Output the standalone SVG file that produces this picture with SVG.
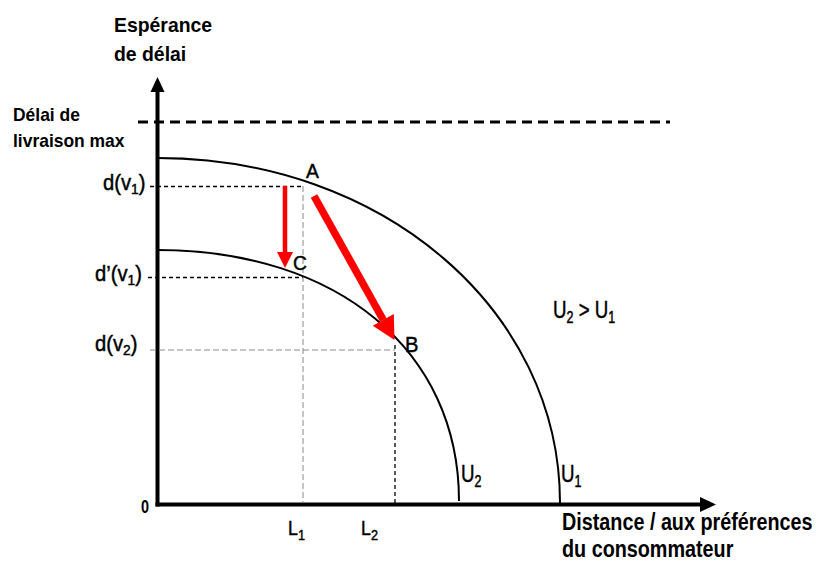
<svg xmlns="http://www.w3.org/2000/svg" width="816" height="566" viewBox="0 0 816 566">
<defs>
<style>
text{font-family:"Liberation Sans",Arial,sans-serif;font-weight:bold;fill:#000}
text.r{font-weight:normal;stroke:#000;stroke-width:0.45}
.ax{stroke:#000;stroke-width:4;fill:none}
.curve{stroke:#000;stroke-width:2;fill:none}
.dk{stroke:#000;stroke-width:1.3;stroke-dasharray:4 3;fill:none}
.gr{stroke:#8a8a8a;stroke-width:1;stroke-dasharray:6 3;fill:none}
.red{fill:#ff0000}
</style>
</defs>
<rect width="816" height="566" fill="#fff"/>
<g id="axes">
<line x1="157.5" y1="506.5" x2="157.5" y2="90" class="ax"/>
<polygon points="157.5,77 150.5,92 164.5,92"/>
<line x1="155.5" y1="504.5" x2="701" y2="504.5" class="ax"/>
<polygon points="716,504.5 700,497 700,512"/>
<line x1="138" y1="122" x2="670" y2="122" stroke="#000" stroke-width="3" stroke-dasharray="10 6"/>
</g>
<g id="guides">
<path class="dk" d="M150,186.5H303"/>
<path class="dk" d="M148,277.5H303"/>
<path class="gr" d="M150,350H395"/>
<path class="gr" d="M303,186V503" stroke="#555"/>
<path class="dk" d="M395,345V503" stroke-width="1"/>
</g>
<g id="curves">
<path id="U1" class="curve" d="M157.5,158 C383,158 560,310 560,503"/>
<path id="U2" class="curve" d="M157.5,250 C338,250 459,351 459,501"/>
</g>
<g id="arrows">
<line x1="285" y1="186" x2="285" y2="253" stroke="#ff0000" stroke-width="4.5"/>
<polygon class="red" points="277,252 293,252 285,268"/>
<line x1="314" y1="196" x2="383.3" y2="320" stroke="#ff0000" stroke-width="7.5"/>
<polygon class="red" points="394.5,340 393.8,314 372.8,325.8"/>
</g>
<g id="labels">
<text transform="translate(114,32) scale(0.97,1)" font-size="20">Espérance</text>
<text transform="translate(114,61) scale(0.97,1)" font-size="20">de délai</text>
<text transform="translate(13,121) scale(0.97,1)" font-size="18">Délai de</text>
<text transform="translate(13,147) scale(0.97,1)" font-size="18">livraison max</text>
<text class="r" transform="translate(103,190) scale(0.92,1)" font-size="22">d(v<tspan font-size="15" dy="4">1</tspan><tspan dy="-4">)</tspan></text>
<text class="r" transform="translate(95,281) scale(0.92,1)" font-size="22">d’(v<tspan font-size="15" dy="4">1</tspan><tspan dy="-4">)</tspan></text>
<text class="r" transform="translate(95,351) scale(0.92,1)" font-size="22">d(v<tspan font-size="15" dy="4">2</tspan><tspan dy="-4">)</tspan></text>
<text class="r" transform="translate(306,178) scale(0.92,1)" font-size="21">A</text>
<text class="r" transform="translate(293,270) scale(0.92,1)" font-size="21">C</text>
<text class="r" transform="translate(405,352) scale(0.92,1)" font-size="22">B</text>
<text class="r" transform="translate(553,318) scale(0.78,1)" font-size="24">U<tspan font-size="16" dy="5">2</tspan><tspan dy="-5"> &gt; U</tspan><tspan font-size="16" dy="5">1</tspan></text>
<text class="r" transform="translate(461,482) scale(0.78,1)" font-size="24">U<tspan font-size="16" dy="5">2</tspan></text>
<text class="r" transform="translate(561,482) scale(0.78,1)" font-size="24">U<tspan font-size="16" dy="5">1</tspan></text>
<text class="r" transform="translate(288,535) scale(0.85,1)" font-size="21">L<tspan font-size="15" dy="5">1</tspan></text>
<text class="r" transform="translate(361,535) scale(0.85,1)" font-size="21">L<tspan font-size="15" dy="5">2</tspan></text>
<text transform="translate(141,513) scale(0.8,1)" font-size="18">0</text>
<text transform="translate(562,530) scale(0.86,1)" font-size="23">Distance / aux préférences</text>
<text transform="translate(562,557) scale(0.86,1)" font-size="23">du consommateur</text>
</g>
</svg>
